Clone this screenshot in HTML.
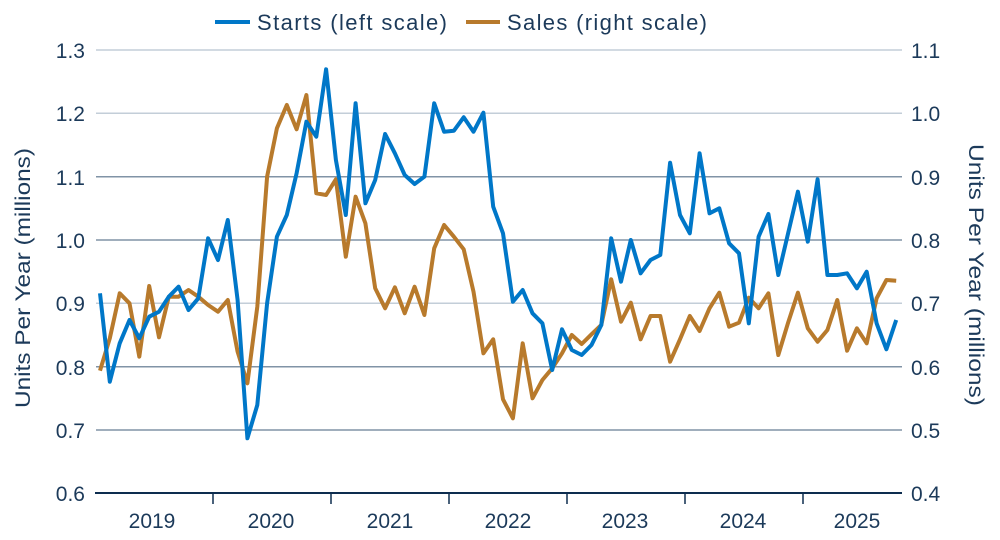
<!DOCTYPE html>
<html><head><meta charset="utf-8"><style>
body{margin:0;background:#fff}
svg{display:block;font-family:"Liberation Sans",sans-serif}
</style></head><body>
<svg id="c" width="1000" height="540" viewBox="0 0 1000 540">
<g stroke-width="1.5">
<line x1="96" x2="902" y1="50" y2="50" stroke="#c3ced8"/>
<line x1="96" x2="902" y1="113.3" y2="113.3" stroke="#c3ced8"/>
<line x1="96" x2="902" y1="176.7" y2="176.7" stroke="#8093a6"/>
<line x1="96" x2="902" y1="240" y2="240" stroke="#8093a6"/>
<line x1="96" x2="902" y1="303.3" y2="303.3" stroke="#c3ced8"/>
<line x1="96" x2="902" y1="366.7" y2="366.7" stroke="#8093a6"/>
<line x1="96" x2="902" y1="430" y2="430" stroke="#8093a6"/>
</g>
<line x1="95" x2="902" y1="493" y2="493" stroke="#0d2d4f" stroke-width="2"/>
<g stroke="#0d2d4f" stroke-width="1.5">
<line x1="213" x2="213" y1="493" y2="504"/><line x1="331" x2="331" y1="493" y2="504"/>
<line x1="449" x2="449" y1="493" y2="504"/><line x1="567" x2="567" y1="493" y2="504"/>
<line x1="685" x2="685" y1="493" y2="504"/><line x1="803" x2="803" y1="493" y2="504"/>
</g>
<g fill="#1c3a5a" font-size="21" text-anchor="middle">
<text x="152" y="528">2019</text><text x="271" y="528">2020</text><text x="390" y="528">2021</text>
<text x="508" y="528">2022</text><text x="625" y="528">2023</text><text x="743" y="528">2024</text><text x="857" y="528">2025</text>
</g>
<g fill="#1c3a5a" font-size="21" text-anchor="end">
<text x="85" y="58">1.3</text><text x="85" y="121">1.2</text><text x="85" y="185">1.1</text>
<text x="85" y="248">1.0</text><text x="85" y="311">0.9</text><text x="85" y="375">0.8</text>
<text x="85" y="438">0.7</text><text x="85" y="501">0.6</text>
</g>
<g fill="#1c3a5a" font-size="21" text-anchor="start">
<text x="911" y="58">1.1</text><text x="911" y="121">1.0</text><text x="911" y="185">0.9</text>
<text x="911" y="248">0.8</text><text x="911" y="311">0.7</text><text x="911" y="375">0.6</text>
<text x="911" y="438">0.5</text><text x="911" y="501">0.4</text>
</g>
<text transform="translate(30,408) rotate(-90)" fill="#1c3a5a" font-size="21" textLength="260" lengthAdjust="spacingAndGlyphs">Units Per Year (millions)</text>
<text transform="translate(969,144) rotate(90)" fill="#1c3a5a" font-size="21" textLength="262" lengthAdjust="spacingAndGlyphs">Units Per Year (millions)</text>
<line x1="215" x2="250" y1="22" y2="22" stroke="#0077c8" stroke-width="4"/>
<text x="257" y="30" fill="#1c3a5a" font-size="22" textLength="190" lengthAdjust="spacing">Starts (left scale)</text>
<line x1="466" x2="500" y1="22" y2="22" stroke="#b87a2c" stroke-width="4"/>
<text x="507" y="30" fill="#1c3a5a" font-size="22" textLength="200" lengthAdjust="spacing">Sales (right scale)</text>
<polyline id="o" fill="none" stroke="#b87a2c" stroke-width="4" stroke-linejoin="round"/>
<polyline id="b" fill="none" stroke="#0077c8" stroke-width="4" stroke-linejoin="round"/>
</svg>
<script>
var B=[760,1025,910,840,895,830,815,770,740,810,775,595,660,540,780,1195,1095,790,590,525,400,245,290,88,360,525,190,490,420,282,340,405,432,410,190,275,272,232,275,218,500,580,785,750,820,850,990,868,930,945,915,855,595,725,600,700,660,645,368,525,580,340,520,505,610,640,850,590,522,705,580,455,605,418,705,705,700,745,695,850,928,840];
var O=[992,895,760,790,950,738,892,770,770,750,770,795,815,780,935,1030,800,410,265,195,268,165,460,465,418,650,470,550,745,805,742,820,740,825,625,555,590,628,755,940,898,1078,1135,910,1075,1020,985,940,885,912,883,855,718,845,788,898,828,828,965,898,828,873,805,758,860,848,773,805,760,945,848,758,865,905,870,780,932,865,910,775,720,722];
function pts(a){return a.map(function(v,i){return (100+9.83*i).toFixed(1)+","+(40+v/3).toFixed(1)}).join(" ")}
document.getElementById("b").setAttribute("points",pts(B));
document.getElementById("o").setAttribute("points",pts(O));
</script>
</body></html>
